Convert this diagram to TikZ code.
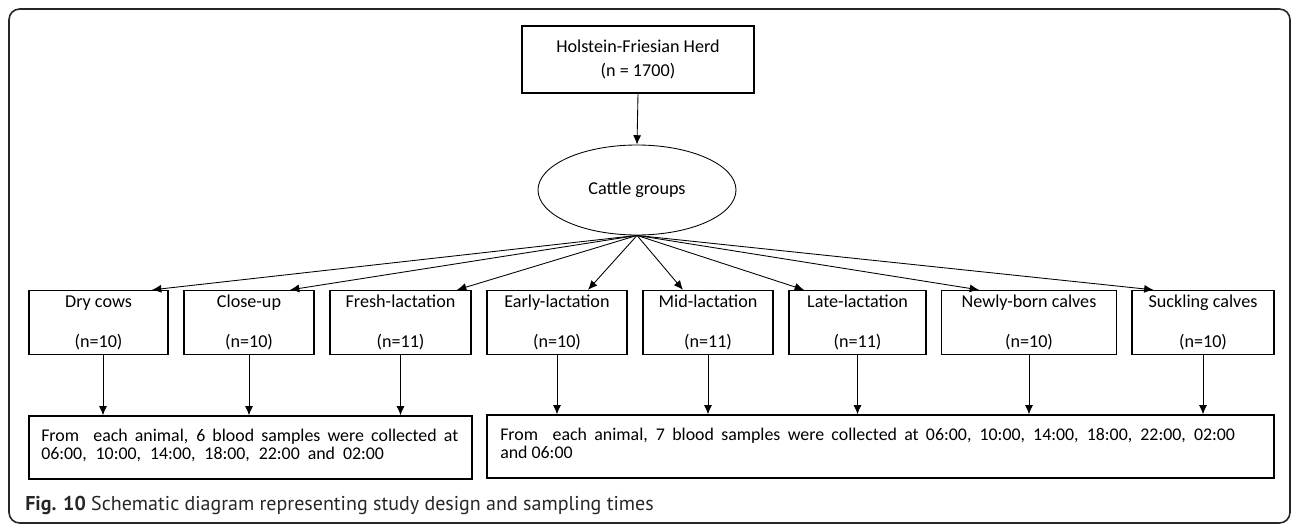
\documentclass[tikz,border=0pt]{standalone}
\usepackage{fontspec}
\setmainfont{Carlito}
\newfontfamily\capfont{PT Sans}
\usetikzlibrary{arrows.meta,shapes.geometric,calc}
\begin{document}
\begin{tikzpicture}[x=0.75pt,y=-0.75pt,
  txt/.style={font=\fontsize{13.6}{13.6}\selectfont},
  box/.style={draw, line width=0.95pt, inner sep=0pt, align=center, txt},
  grp/.style={box, minimum height=48pt},
  lowbox/.style={draw, line width=0.95pt, inner sep=0pt, minimum height=47.25pt},
  lowtxt/.style={anchor=north west, inner sep=0pt, align=left, font=\fontsize{13.4}{13.4}\selectfont},
  arr/.style={-{Latex[length=7pt,width=6pt]}, line width=0.65pt}]
\useasboundingbox (0,0) rectangle (1292,525);
\draw[line width=1.2pt, rounded corners=8pt, draw=black!85] (9,9) rectangle (1290,523);

\node[box, minimum width=174pt, minimum height=50.25pt] (herd) at (638,59.5) {Holstein-Friesian Herd\\[4.4pt](n = 1700)};
\node[draw, ellipse, line width=0.65pt, minimum width=148.5pt, minimum height=67.5pt, inner sep=0pt, txt] (cg) at (637,190) {Cattle groups};
\draw[arr] (herd.south) -- (cg.north);

\node[grp, minimum width=104.25pt] (b1) at (98.5,322.5) {Dry cows\\[16.4pt](n=10)};
\node[grp, minimum width=97.5pt] (b2) at (249,322.5) {Close-up\\[16.4pt](n=10)};
\node[grp, minimum width=105.75pt] (b3) at (400.5,322.5) {Fresh-lactation\\[16.4pt](n=11)};
\node[grp, minimum width=105pt] (b4) at (557,322.5) {Early-lactation\\[16.4pt](n=10)};
\node[grp, minimum width=97.5pt] (b5) at (708,322.5) {Mid-lactation\\[16.4pt](n=11)};
\node[grp, minimum width=102.75pt] (b6) at (857.5,322.5) {Late-lactation\\[16.4pt](n=11)};
\node[grp, minimum width=131.25pt] (b7) at (1029,322.5) {Newly-born calves\\[16.4pt](n=10)};
\node[grp, minimum width=106.5pt] (b8) at (1203,322.5) {Suckling calves\\[16.4pt](n=10)};

\draw[arr] (cg.south) -- ($(b1.north)+(53.5,0)$);
\draw[arr] (cg.south) -- ($(b2.north)+(41,0)$);
\draw[arr] (cg.south) -- ($(b3.north)+(56.5,0)$);
\draw[arr] (cg.south) -- ($(b4.north)+(31,0)$);
\draw[arr] (cg.south) -- ($(b5.north)+(-25,0)$);
\draw[arr] (cg.south) -- ($(b6.north)+(-53.5,0)$);
\draw[arr] (cg.south) -- ($(b7.north)+(-50,0)$);
\draw[arr] (cg.south) -- ($(b8.north)+(-49.5,0)$);

\node[lowbox, minimum width=332.25pt] (L) at (250.5,447.5) {};
\node[lowbox, minimum width=590.25pt] (R) at (880.5,446.5) {};
\node[lowtxt] (Lt) at (41,429) {\makebox[312.75pt][s]{From\ \ each animal, 6 blood samples were collected at}\\\makebox[257pt][s]{06:00, 10:00, 14:00, 18:00, 22:00 and 02:00}};
\node[lowtxt] (Rt) at (500,428) {\makebox[551pt][s]{From\ \ each animal, 7 blood samples were collected at 06:00, 10:00, 14:00, 18:00, 22:00, 02:00}\\and 06:00};

\draw[arr] ($(b1.south)+(4.5,0)$) coordinate (s1) -- (s1 |- L.north);
\draw[arr] (b2.south) -- (b2.south |- L.north);
\draw[arr] (b3.south) -- (b3.south |- L.north);
\draw[arr] (b4.south) -- (b4.south |- R.north);
\draw[arr] (b5.south) -- (b5.south |- R.north);
\draw[arr] (b6.south) -- (b6.south |- R.north);
\draw[arr] (b7.south) -- (b7.south |- R.north);
\draw[arr] (b8.south) -- (b8.south |- R.north);

\node[anchor=west, inner sep=0pt, text=black!85, font=\capfont\fontsize{15}{16}\selectfont] (cap) at (25,505) {\textbf{Fig. 10} Schematic diagram representing study design and sampling times};
\end{tikzpicture}
\end{document}
